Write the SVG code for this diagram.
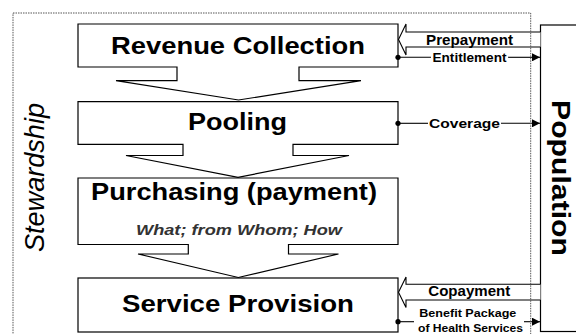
<svg xmlns="http://www.w3.org/2000/svg" width="576" height="334" viewBox="0 0 576 334">
  <defs>
    <style>
      .box { fill: #fff; stroke: #000; stroke-width: 1.2; }
      .flow { fill: #fff; stroke: #000; stroke-width: 1.1; }
      .link { fill: none; stroke: #000; stroke-width: 1.1; }
      .title { font-family: "Liberation Sans", Arial, sans-serif; font-weight: bold; font-size: 23.5px; fill: #000; }
      .sub { font-family: "Liberation Sans", Arial, sans-serif; font-weight: bold; font-style: italic; font-size: 15px; fill: #333; }
      .lbl { font-family: "Liberation Sans", Arial, sans-serif; font-weight: bold; fill: #000; }
      .dot { fill: #000; }
    </style>
    <marker id="tip" viewBox="0 0 8 8" refX="8" refY="4" markerWidth="8" markerHeight="8" markerUnits="userSpaceOnUse" orient="auto">
      <path d="M0,0 L8,4 L0,8 Z" fill="#000"/>
    </marker>
  </defs>

  <!-- Population block on the right -->
  <g id="population">
    <rect class="box" x="540.5" y="25" width="45" height="306.5"/>
    <text class="lbl" font-size="26" transform="translate(551.5,178) rotate(90)" text-anchor="middle" textLength="156" lengthAdjust="spacingAndGlyphs">Population</text>
  </g>

  <!-- Function boxes, each with a downward funnel arrow -->
  <g id="revenue-collection">
    <path class="box" d="M78,24 H398 V67 H299 V80.7 H361 L238.5,100 L116,80.7 H177 V67 H78 Z"/>
    <text class="title" x="111" y="53.5" textLength="254" lengthAdjust="spacingAndGlyphs">Revenue Collection</text>
  </g>

  <g id="pooling">
    <path class="box" d="M78,101.7 H398 V144.3 H293 V155.5 H349 L238,177.3 L126,155.5 H183 V144.3 H78 Z"/>
    <text class="title" x="188" y="130" textLength="99" lengthAdjust="spacingAndGlyphs">Pooling</text>
  </g>

  <g id="purchasing">
    <path class="box" d="M78,178 H398 V244.5 H288.5 V254 H338.5 L238.3,277.5 L138,254 H188.3 V244.5 H78 Z"/>
    <text class="title" x="91" y="200" textLength="286" lengthAdjust="spacingAndGlyphs">Purchasing (payment)</text>
    <text class="sub" x="136" y="235" textLength="206" lengthAdjust="spacingAndGlyphs">What; from Whom; How</text>
  </g>

  <g id="service-provision">
    <rect class="box" x="78" y="278" width="320" height="54"/>
    <text class="title" x="122" y="312" textLength="232" lengthAdjust="spacingAndGlyphs">Service Provision</text>
  </g>

  <!-- Flows between the functions and the population -->
  <g id="connectors">
    <!-- Prepayment: hollow block arrow -->
    <path class="flow" d="M540.5,32 H406 V24 L398.5,39.5 L406,55 V47 H540.5"/>
    <text class="lbl" font-size="14" x="426" y="44.5" textLength="87" lengthAdjust="spacingAndGlyphs">Prepayment</text>

    <!-- Entitlement -->
    <circle class="dot" cx="398" cy="57.3" r="2.6"/>
    <path class="link" d="M398,57.3 H431"/>
    <path class="link" d="M508,57.3 H540" marker-end="url(#tip)"/>
    <text class="lbl" font-size="12.5" x="432.5" y="61.7" textLength="74" lengthAdjust="spacingAndGlyphs">Entitlement</text>

    <!-- Coverage -->
    <circle class="dot" cx="398" cy="123.3" r="2.6"/>
    <path class="link" d="M398,123.3 H428"/>
    <path class="link" d="M501,123.3 H540" marker-end="url(#tip)"/>
    <text class="lbl" font-size="12.5" x="429" y="127.6" textLength="71" lengthAdjust="spacingAndGlyphs">Coverage</text>

    <!-- Copayment: hollow block arrow -->
    <path class="flow" d="M540.5,284.3 H406 V277 L398.5,292.2 L406,307.5 V300 H540.5"/>
    <text class="lbl" font-size="14" x="428.3" y="296.3" textLength="82" lengthAdjust="spacingAndGlyphs">Copayment</text>

    <!-- Benefit package -->
    <circle class="dot" cx="398" cy="321.7" r="2.6"/>
    <path class="link" d="M398,321.7 H414"/>
    <path class="link" d="M524,321.7 H540" marker-end="url(#tip)"/>
    <text class="lbl" font-size="11" x="419.3" y="316.5" textLength="97" lengthAdjust="spacingAndGlyphs">Benefit Package</text>
    <text class="lbl" font-size="11" x="418" y="331.8" textLength="105" lengthAdjust="spacingAndGlyphs">of Health Services</text>
  </g>

  <!-- Stewardship frame around the functions -->
  <g id="stewardship">
    <rect x="13" y="13" width="517.7" height="340" fill="none" stroke="#555" stroke-width="1" stroke-dasharray="1.5 1"/>
    <text font-family="'Liberation Sans', Arial, sans-serif" font-style="italic" font-size="28" fill="#000" transform="translate(44,177.5) rotate(-90)" text-anchor="middle" textLength="149" lengthAdjust="spacingAndGlyphs">Stewardship</text>
  </g>
</svg>
